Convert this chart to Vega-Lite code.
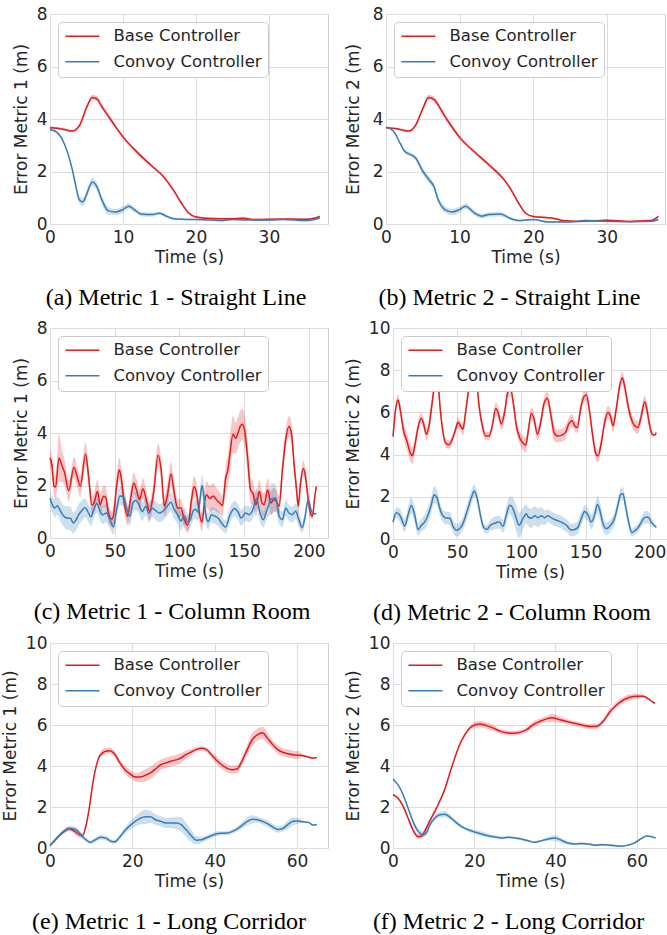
{
"$schema": "https://vega.github.io/schema/vega-lite/v6.json",
"background": "white",
"padding": {"left": 0, "top": 4, "right": 0, "bottom": 0},
"datasets": {
"aB": [{"t":0,"m":3.67,"lo":3.62,"hi":3.72},{"t":1,"m":3.65,"lo":3.6,"hi":3.7},{"t":2,"m":3.6,"lo":3.55,"hi":3.65},{"t":3,"m":3.54,"lo":3.49,"hi":3.59},{"t":4,"m":3.73,"lo":3.65,"hi":3.81},{"t":5,"m":4.43,"lo":4.33,"hi":4.53},{"t":5.8,"m":4.82,"lo":4.72,"hi":4.92},{"t":6.5,"m":4.75,"lo":4.65,"hi":4.85},{"t":7,"m":4.52,"lo":4.42,"hi":4.62},{"t":8,"m":4.11,"lo":4.01,"hi":4.21},{"t":9,"m":3.7,"lo":3.62,"hi":3.78},{"t":10,"m":3.32,"lo":3.25,"hi":3.39},{"t":12,"m":2.72,"lo":2.66,"hi":2.78},{"t":14,"m":2.2,"lo":2.14,"hi":2.26},{"t":15.5,"m":1.82,"lo":1.76,"hi":1.88},{"t":17,"m":1.25,"lo":1.19,"hi":1.31},{"t":18,"m":0.8,"lo":0.74,"hi":0.86},{"t":19,"m":0.42,"lo":0.37,"hi":0.47},{"t":20,"m":0.27,"lo":0.23,"hi":0.31},{"t":22,"m":0.21,"lo":0.17,"hi":0.25},{"t":25,"m":0.2,"lo":0.16,"hi":0.24},{"t":26.5,"m":0.22,"lo":0.17,"hi":0.27},{"t":28,"m":0.17,"lo":0.13,"hi":0.21},{"t":30,"m":0.18,"lo":0.14,"hi":0.22},{"t":33,"m":0.19,"lo":0.15,"hi":0.23},{"t":35,"m":0.18,"lo":0.14,"hi":0.22},{"t":36.5,"m":0.24,"lo":0.2,"hi":0.28},{"t":37,"m":0.29,"lo":0.25,"hi":0.33}],
"aC": [{"t":0,"m":3.6,"lo":3.57,"hi":3.63},{"t":1,"m":3.48,"lo":3.44,"hi":3.52},{"t":2,"m":3.03,"lo":2.98,"hi":3.08},{"t":3,"m":2.14,"lo":2.06,"hi":2.22},{"t":3.5,"m":1.5,"lo":1.38,"hi":1.62},{"t":4,"m":0.93,"lo":0.78,"hi":1.08},{"t":4.5,"m":0.84,"lo":0.69,"hi":0.99},{"t":5,"m":1.12,"lo":0.97,"hi":1.27},{"t":5.8,"m":1.6,"lo":1.45,"hi":1.75},{"t":6.5,"m":1.38,"lo":1.23,"hi":1.53},{"t":7,"m":0.99,"lo":0.84,"hi":1.14},{"t":8,"m":0.5,"lo":0.35,"hi":0.65},{"t":9,"m":0.46,"lo":0.34,"hi":0.58},{"t":10,"m":0.55,"lo":0.43,"hi":0.67},{"t":10.8,"m":0.68,"lo":0.58,"hi":0.78},{"t":11.5,"m":0.56,"lo":0.46,"hi":0.66},{"t":12.5,"m":0.38,"lo":0.3,"hi":0.46},{"t":14,"m":0.36,"lo":0.28,"hi":0.44},{"t":15,"m":0.41,"lo":0.35,"hi":0.47},{"t":16,"m":0.29,"lo":0.24,"hi":0.34},{"t":17,"m":0.2,"lo":0.16,"hi":0.24},{"t":18,"m":0.18,"lo":0.15,"hi":0.21},{"t":20,"m":0.17,"lo":0.14,"hi":0.2},{"t":22,"m":0.15,"lo":0.12,"hi":0.18},{"t":23.5,"m":0.13,"lo":0.1,"hi":0.16},{"t":25,"m":0.17,"lo":0.14,"hi":0.2},{"t":27,"m":0.15,"lo":0.12,"hi":0.18},{"t":30,"m":0.15,"lo":0.12,"hi":0.18},{"t":32,"m":0.17,"lo":0.14,"hi":0.2},{"t":35,"m":0.13,"lo":0.1,"hi":0.16},{"t":37,"m":0.23,"lo":0.2,"hi":0.26}],
"bB": [{"t":0,"m":3.67,"lo":3.63,"hi":3.71},{"t":1.5,"m":3.63,"lo":3.59,"hi":3.67},{"t":3,"m":3.54,"lo":3.49,"hi":3.59},{"t":4,"m":3.75,"lo":3.68,"hi":3.82},{"t":5,"m":4.4,"lo":4.3,"hi":4.5},{"t":5.8,"m":4.82,"lo":4.72,"hi":4.92},{"t":6.5,"m":4.75,"lo":4.65,"hi":4.85},{"t":8,"m":4.1,"lo":4.0,"hi":4.2},{"t":10,"m":3.3,"lo":3.22,"hi":3.38},{"t":12,"m":2.75,"lo":2.69,"hi":2.81},{"t":14,"m":2.25,"lo":2.19,"hi":2.31},{"t":16,"m":1.7,"lo":1.64,"hi":1.76},{"t":17,"m":1.3,"lo":1.24,"hi":1.36},{"t":18,"m":0.8,"lo":0.74,"hi":0.86},{"t":19,"m":0.4,"lo":0.35,"hi":0.45},{"t":20,"m":0.29,"lo":0.25,"hi":0.33},{"t":22,"m":0.24,"lo":0.2,"hi":0.28},{"t":23,"m":0.2,"lo":0.16,"hi":0.24},{"t":24,"m":0.13,"lo":0.1,"hi":0.16},{"t":26,"m":0.1,"lo":0.07,"hi":0.13},{"t":28,"m":0.12,"lo":0.08,"hi":0.16},{"t":30,"m":0.14,"lo":0.1,"hi":0.18},{"t":33,"m":0.1,"lo":0.07,"hi":0.13},{"t":36,"m":0.13,"lo":0.1,"hi":0.16},{"t":37,"m":0.29,"lo":0.26,"hi":0.32}],
"bC": [{"t":0,"m":3.69,"lo":3.66,"hi":3.72},{"t":1,"m":3.54,"lo":3.5,"hi":3.58},{"t":2,"m":3.03,"lo":2.97,"hi":3.09},{"t":2.5,"m":2.78,"lo":2.71,"hi":2.85},{"t":3.5,"m":2.62,"lo":2.54,"hi":2.7},{"t":4,"m":2.52,"lo":2.42,"hi":2.62},{"t":5,"m":2.01,"lo":1.89,"hi":2.13},{"t":6,"m":1.63,"lo":1.51,"hi":1.75},{"t":6.5,"m":1.44,"lo":1.32,"hi":1.56},{"t":7,"m":0.99,"lo":0.87,"hi":1.11},{"t":8,"m":0.55,"lo":0.43,"hi":0.67},{"t":9,"m":0.46,"lo":0.34,"hi":0.58},{"t":10,"m":0.55,"lo":0.43,"hi":0.67},{"t":10.8,"m":0.68,"lo":0.58,"hi":0.78},{"t":12,"m":0.42,"lo":0.32,"hi":0.52},{"t":13,"m":0.3,"lo":0.22,"hi":0.38},{"t":14,"m":0.36,"lo":0.28,"hi":0.44},{"t":15.5,"m":0.38,"lo":0.3,"hi":0.46},{"t":17,"m":0.2,"lo":0.14,"hi":0.26},{"t":18,"m":0.13,"lo":0.09,"hi":0.17},{"t":20,"m":0.17,"lo":0.14,"hi":0.2},{"t":22,"m":0.08,"lo":0.05,"hi":0.11},{"t":25,"m":0.08,"lo":0.05,"hi":0.11},{"t":27,"m":0.13,"lo":0.1,"hi":0.16},{"t":30,"m":0.1,"lo":0.07,"hi":0.13},{"t":33,"m":0.09,"lo":0.06,"hi":0.12},{"t":36,"m":0.1,"lo":0.07,"hi":0.13},{"t":37,"m":0.17,"lo":0.14,"hi":0.2}],
"cB": [{"t":0,"m":3.05,"lo":2.7,"hi":3.4},{"t":1.8,"m":2.67,"lo":2.27,"hi":3.07},{"t":3,"m":1.97,"lo":1.57,"hi":2.37},{"t":4.3,"m":1.94,"lo":1.49,"hi":2.39},{"t":6.9,"m":3.05,"lo":2.15,"hi":3.95},{"t":9.4,"m":2.73,"lo":2.13,"hi":3.33},{"t":11.2,"m":2.5,"lo":2.0,"hi":3.0},{"t":14.5,"m":1.8,"lo":1.4,"hi":2.2},{"t":18.5,"m":2.7,"lo":2.3,"hi":3.1},{"t":20.9,"m":2.35,"lo":1.95,"hi":2.75},{"t":23.4,"m":1.97,"lo":1.57,"hi":2.37},{"t":27.5,"m":3.2,"lo":2.75,"hi":3.65},{"t":29.8,"m":2.35,"lo":1.95,"hi":2.75},{"t":32.4,"m":1.25,"lo":0.9,"hi":1.6},{"t":34.1,"m":1.35,"lo":0.95,"hi":1.75},{"t":36.7,"m":1.78,"lo":1.33,"hi":2.23},{"t":38.7,"m":1.27,"lo":0.87,"hi":1.67},{"t":41.3,"m":1.59,"lo":1.19,"hi":1.99},{"t":43,"m":1.55,"lo":1.15,"hi":1.95},{"t":45.1,"m":0.95,"lo":0.6,"hi":1.3},{"t":47.6,"m":0.72,"lo":0.42,"hi":1.02},{"t":49,"m":0.85,"lo":0.5,"hi":1.2},{"t":51.5,"m":2.0,"lo":1.6,"hi":2.4},{"t":53.5,"m":2.6,"lo":2.15,"hi":3.05},{"t":55,"m":2.3,"lo":1.9,"hi":2.7},{"t":57,"m":1.46,"lo":1.06,"hi":1.86},{"t":59.9,"m":0.83,"lo":0.48,"hi":1.18},{"t":62.2,"m":1.46,"lo":1.06,"hi":1.86},{"t":64.7,"m":2.1,"lo":1.7,"hi":2.5},{"t":66.8,"m":1.84,"lo":1.44,"hi":2.24},{"t":69.3,"m":1.46,"lo":1.06,"hi":1.86},{"t":71.8,"m":1.88,"lo":1.48,"hi":2.28},{"t":74.4,"m":1.46,"lo":1.11,"hi":1.81},{"t":76.9,"m":1.02,"lo":0.67,"hi":1.37},{"t":80,"m":1.71,"lo":1.31,"hi":2.11},{"t":83.5,"m":3.15,"lo":2.7,"hi":3.6},{"t":85.9,"m":2.6,"lo":2.15,"hi":3.05},{"t":88.4,"m":1.21,"lo":0.81,"hi":1.61},{"t":91,"m":1.71,"lo":1.26,"hi":2.16},{"t":93.5,"m":2.45,"lo":2.0,"hi":2.9},{"t":96,"m":1.71,"lo":1.31,"hi":2.11},{"t":98.6,"m":1.14,"lo":0.79,"hi":1.49},{"t":101.1,"m":1.15,"lo":0.8,"hi":1.5},{"t":103.7,"m":0.7,"lo":0.4,"hi":1.0},{"t":106.5,"m":0.5,"lo":0.2,"hi":0.8},{"t":109.5,"m":1.5,"lo":1.1,"hi":1.9},{"t":111.3,"m":1.95,"lo":1.55,"hi":2.35},{"t":113.3,"m":1.7,"lo":1.3,"hi":2.1},{"t":115.4,"m":0.95,"lo":0.6,"hi":1.3},{"t":117.4,"m":0.6,"lo":0.25,"hi":0.95},{"t":119.5,"m":1.4,"lo":0.95,"hi":1.85},{"t":121,"m":1.65,"lo":1.15,"hi":2.15},{"t":123.5,"m":1.5,"lo":1.0,"hi":2.0},{"t":126.1,"m":1.6,"lo":1.1,"hi":2.1},{"t":128.6,"m":1.46,"lo":1.01,"hi":1.91},{"t":131.2,"m":1.33,"lo":0.93,"hi":1.73},{"t":133.2,"m":1.23,"lo":0.83,"hi":1.63},{"t":135.8,"m":2.3,"lo":1.8,"hi":2.8},{"t":137.5,"m":2.6,"lo":2.0,"hi":3.2},{"t":138.8,"m":3.1,"lo":2.4,"hi":3.8},{"t":141.4,"m":3.95,"lo":3.25,"hi":4.65},{"t":143.4,"m":3.8,"lo":3.2,"hi":4.4},{"t":145.2,"m":4.0,"lo":3.4,"hi":4.6},{"t":147,"m":4.25,"lo":3.65,"hi":4.85},{"t":148.5,"m":4.33,"lo":3.73,"hi":4.93},{"t":150.3,"m":4.13,"lo":3.53,"hi":4.73},{"t":152.8,"m":3.0,"lo":2.4,"hi":3.6},{"t":154.9,"m":1.84,"lo":1.34,"hi":2.34},{"t":156.7,"m":1.71,"lo":1.26,"hi":2.16},{"t":159.2,"m":1.27,"lo":0.82,"hi":1.72},{"t":161.8,"m":1.78,"lo":1.33,"hi":2.23},{"t":163.8,"m":1.33,"lo":0.88,"hi":1.78},{"t":165.6,"m":1.27,"lo":0.82,"hi":1.72},{"t":168.1,"m":1.84,"lo":1.39,"hi":2.29},{"t":170.7,"m":1.33,"lo":0.88,"hi":1.78},{"t":172.7,"m":1.46,"lo":1.01,"hi":1.91},{"t":175,"m":1.4,"lo":1.0,"hi":1.8},{"t":177,"m":1.21,"lo":0.81,"hi":1.61},{"t":179.6,"m":2.6,"lo":2.2,"hi":3.0},{"t":182.1,"m":3.75,"lo":3.35,"hi":4.15},{"t":184.7,"m":4.25,"lo":3.85,"hi":4.65},{"t":186.7,"m":3.94,"lo":3.54,"hi":4.34},{"t":188.5,"m":2.86,"lo":2.51,"hi":3.21},{"t":190.5,"m":1.84,"lo":1.49,"hi":2.19},{"t":191.8,"m":1.21,"lo":0.91,"hi":1.51},{"t":193.6,"m":2.1,"lo":1.8,"hi":2.4},{"t":195.7,"m":2.65,"lo":2.35,"hi":2.95},{"t":197.4,"m":2.35,"lo":2.05,"hi":2.65},{"t":199.5,"m":1.46,"lo":1.16,"hi":1.76},{"t":201.2,"m":0.95,"lo":0.75,"hi":1.15},{"t":202.8,"m":0.83,"lo":0.73,"hi":0.93},{"t":204.3,"m":1.46,"lo":1.41,"hi":1.51},{"t":205.8,"m":1.97,"lo":1.95,"hi":1.99}],
"cC": [{"t":0,"m":1.52,"lo":1.22,"hi":1.82},{"t":1.8,"m":1.27,"lo":0.97,"hi":1.57},{"t":3.6,"m":1.14,"lo":0.79,"hi":1.49},{"t":5.6,"m":1.23,"lo":0.88,"hi":1.58},{"t":8.2,"m":1.02,"lo":0.62,"hi":1.42},{"t":10.7,"m":0.83,"lo":0.43,"hi":1.23},{"t":13.2,"m":0.76,"lo":0.31,"hi":1.21},{"t":15.8,"m":0.75,"lo":0.3,"hi":1.2},{"t":18,"m":0.57,"lo":0.17,"hi":0.97},{"t":20.5,"m":0.72,"lo":0.32,"hi":1.12},{"t":22.2,"m":0.89,"lo":0.49,"hi":1.29},{"t":24.7,"m":1.05,"lo":0.65,"hi":1.45},{"t":27.3,"m":1.15,"lo":0.8,"hi":1.5},{"t":29.8,"m":0.95,"lo":0.6,"hi":1.3},{"t":31.6,"m":0.8,"lo":0.45,"hi":1.15},{"t":33.6,"m":1.05,"lo":0.7,"hi":1.4},{"t":36.2,"m":1.31,"lo":0.96,"hi":1.66},{"t":38.7,"m":1.02,"lo":0.67,"hi":1.37},{"t":40.8,"m":0.88,"lo":0.53,"hi":1.23},{"t":43.3,"m":0.95,"lo":0.6,"hi":1.3},{"t":46.4,"m":0.7,"lo":0.35,"hi":1.05},{"t":48.9,"m":0.42,"lo":0.12,"hi":0.72},{"t":51.5,"m":1.1,"lo":0.75,"hi":1.45},{"t":54,"m":1.6,"lo":1.25,"hi":1.95},{"t":57,"m":1.55,"lo":1.2,"hi":1.9},{"t":59.1,"m":1.14,"lo":0.79,"hi":1.49},{"t":61.7,"m":0.83,"lo":0.48,"hi":1.18},{"t":64.2,"m":1.35,"lo":1.0,"hi":1.7},{"t":66.2,"m":1.43,"lo":1.08,"hi":1.78},{"t":68.8,"m":1.27,"lo":0.92,"hi":1.62},{"t":71.3,"m":1.0,"lo":0.65,"hi":1.35},{"t":73.9,"m":1.21,"lo":0.86,"hi":1.56},{"t":76.4,"m":0.95,"lo":0.6,"hi":1.3},{"t":79,"m":1.14,"lo":0.79,"hi":1.49},{"t":81.5,"m":1.05,"lo":0.7,"hi":1.4},{"t":84.6,"m":0.95,"lo":0.6,"hi":1.3},{"t":87.1,"m":1.02,"lo":0.67,"hi":1.37},{"t":90.2,"m":1.18,"lo":0.83,"hi":1.53},{"t":93.5,"m":1.36,"lo":1.01,"hi":1.71},{"t":96,"m":1.08,"lo":0.73,"hi":1.43},{"t":98.6,"m":0.89,"lo":0.54,"hi":1.24},{"t":101.1,"m":0.65,"lo":0.3,"hi":1.0},{"t":103.7,"m":0.83,"lo":0.48,"hi":1.18},{"t":106.5,"m":0.6,"lo":0.3,"hi":0.9},{"t":108.5,"m":0.7,"lo":0.4,"hi":1.0},{"t":110.5,"m":1.02,"lo":0.67,"hi":1.37},{"t":112.5,"m":1.1,"lo":0.75,"hi":1.45},{"t":114.5,"m":0.98,"lo":0.63,"hi":1.33},{"t":116,"m":1.5,"lo":1.1,"hi":1.9},{"t":117.5,"m":2.0,"lo":1.6,"hi":2.4},{"t":119,"m":1.55,"lo":1.15,"hi":1.95},{"t":120.5,"m":0.83,"lo":0.48,"hi":1.18},{"t":122.3,"m":0.63,"lo":0.33,"hi":0.93},{"t":124.8,"m":0.89,"lo":0.59,"hi":1.19},{"t":127.4,"m":0.83,"lo":0.53,"hi":1.13},{"t":129.9,"m":0.76,"lo":0.46,"hi":1.06},{"t":132.5,"m":0.57,"lo":0.32,"hi":0.82},{"t":135.8,"m":0.42,"lo":0.17,"hi":0.67},{"t":138.8,"m":0.85,"lo":0.55,"hi":1.15},{"t":142.6,"m":1.12,"lo":0.82,"hi":1.42},{"t":145.2,"m":1.0,"lo":0.7,"hi":1.3},{"t":147.7,"m":0.76,"lo":0.46,"hi":1.06},{"t":151,"m":0.95,"lo":0.65,"hi":1.25},{"t":154.1,"m":0.89,"lo":0.59,"hi":1.19},{"t":156.7,"m":1.08,"lo":0.73,"hi":1.43},{"t":159.7,"m":1.5,"lo":1.1,"hi":1.9},{"t":162.3,"m":0.95,"lo":0.6,"hi":1.3},{"t":164.8,"m":0.7,"lo":0.4,"hi":1.0},{"t":168.1,"m":1.14,"lo":0.79,"hi":1.49},{"t":171.4,"m":1.5,"lo":0.9,"hi":2.1},{"t":174.5,"m":1.52,"lo":1.02,"hi":2.02},{"t":177,"m":0.83,"lo":0.53,"hi":1.13},{"t":179.6,"m":0.7,"lo":0.4,"hi":1.0},{"t":182.1,"m":1.14,"lo":0.84,"hi":1.44},{"t":184.7,"m":0.95,"lo":0.65,"hi":1.25},{"t":187.2,"m":0.89,"lo":0.59,"hi":1.19},{"t":189.8,"m":1.02,"lo":0.72,"hi":1.32},{"t":192.3,"m":0.7,"lo":0.4,"hi":1.0},{"t":194.9,"m":0.4,"lo":0.2,"hi":0.6},{"t":196.9,"m":0.76,"lo":0.56,"hi":0.96},{"t":199.5,"m":1.46,"lo":1.31,"hi":1.61},{"t":202,"m":1.02,"lo":0.92,"hi":1.12},{"t":204,"m":0.92,"lo":0.87,"hi":0.97},{"t":205.8,"m":0.93,"lo":0.91,"hi":0.95}],
"dB": [{"t":0,"m":4.85,"lo":4.65,"hi":5.05},{"t":2.1,"m":6.18,"lo":5.93,"hi":6.43},{"t":3.9,"m":6.59,"lo":6.34,"hi":6.84},{"t":5.7,"m":6.1,"lo":5.8,"hi":6.4},{"t":8.3,"m":5.12,"lo":4.77,"hi":5.47},{"t":10.9,"m":4.63,"lo":4.23,"hi":5.03},{"t":13.5,"m":4.07,"lo":3.67,"hi":4.47},{"t":15.1,"m":3.95,"lo":3.55,"hi":4.35},{"t":16.9,"m":4.39,"lo":4.04,"hi":4.74},{"t":19.5,"m":5.28,"lo":4.98,"hi":5.58},{"t":22.1,"m":5.72,"lo":5.47,"hi":5.97},{"t":24.2,"m":5.37,"lo":5.12,"hi":5.62},{"t":26,"m":4.96,"lo":4.66,"hi":5.26},{"t":28.1,"m":5.37,"lo":5.02,"hi":5.72},{"t":30.6,"m":6.5,"lo":6.1,"hi":6.9},{"t":33.2,"m":7.48,"lo":7.08,"hi":7.88},{"t":35.1,"m":7.32,"lo":6.97,"hi":7.67},{"t":36.9,"m":6.1,"lo":5.8,"hi":6.4},{"t":39,"m":5.04,"lo":4.79,"hi":5.29},{"t":41,"m":4.55,"lo":4.35,"hi":4.75},{"t":43.6,"m":4.47,"lo":4.27,"hi":4.67},{"t":46.2,"m":4.72,"lo":4.52,"hi":4.92},{"t":48.8,"m":5.2,"lo":5.0,"hi":5.4},{"t":50.6,"m":5.53,"lo":5.28,"hi":5.78},{"t":52.5,"m":5.37,"lo":5.12,"hi":5.62},{"t":54.5,"m":5.2,"lo":4.9,"hi":5.5},{"t":56.6,"m":6.02,"lo":5.72,"hi":6.32},{"t":59.2,"m":7.15,"lo":6.85,"hi":7.45},{"t":61.8,"m":7.7,"lo":7.4,"hi":8.0},{"t":63.5,"m":7.75,"lo":7.45,"hi":8.05},{"t":65.5,"m":7.3,"lo":7.0,"hi":7.6},{"t":67,"m":6.34,"lo":6.04,"hi":6.64},{"t":69.6,"m":5.37,"lo":5.07,"hi":5.67},{"t":72.2,"m":4.88,"lo":4.68,"hi":5.08},{"t":74.8,"m":4.88,"lo":4.68,"hi":5.08},{"t":77.4,"m":5.37,"lo":5.17,"hi":5.57},{"t":80,"m":6.18,"lo":5.88,"hi":6.48},{"t":81.8,"m":6.02,"lo":5.72,"hi":6.32},{"t":84.4,"m":5.45,"lo":5.15,"hi":5.75},{"t":87,"m":6.02,"lo":5.72,"hi":6.32},{"t":89.6,"m":6.99,"lo":6.69,"hi":7.29},{"t":91.7,"m":7.07,"lo":6.77,"hi":7.37},{"t":94,"m":6.34,"lo":6.04,"hi":6.64},{"t":96.1,"m":5.37,"lo":5.07,"hi":5.67},{"t":98.7,"m":4.8,"lo":4.5,"hi":5.1},{"t":101.3,"m":4.55,"lo":4.2,"hi":4.9},{"t":103.5,"m":4.45,"lo":4.1,"hi":4.8},{"t":105.2,"m":5.04,"lo":4.74,"hi":5.34},{"t":107.8,"m":5.95,"lo":5.65,"hi":6.25},{"t":109.9,"m":5.69,"lo":5.39,"hi":5.99},{"t":112.5,"m":4.96,"lo":4.66,"hi":5.26},{"t":115.1,"m":5.53,"lo":5.23,"hi":5.83},{"t":117.7,"m":6.42,"lo":6.12,"hi":6.72},{"t":120.3,"m":6.67,"lo":6.37,"hi":6.97},{"t":122.9,"m":5.93,"lo":5.58,"hi":6.28},{"t":125.5,"m":5.04,"lo":4.64,"hi":5.44},{"t":128.1,"m":4.88,"lo":4.58,"hi":5.18},{"t":131.2,"m":4.91,"lo":4.61,"hi":5.21},{"t":134.3,"m":5.04,"lo":4.74,"hi":5.34},{"t":136.9,"m":5.45,"lo":5.15,"hi":5.75},{"t":139.5,"m":5.61,"lo":5.31,"hi":5.91},{"t":141.6,"m":5.37,"lo":5.12,"hi":5.62},{"t":143.6,"m":5.28,"lo":5.03,"hi":5.53},{"t":146.2,"m":6.18,"lo":5.88,"hi":6.48},{"t":148.8,"m":6.75,"lo":6.45,"hi":7.05},{"t":150.7,"m":6.83,"lo":6.53,"hi":7.13},{"t":153.2,"m":6.02,"lo":5.72,"hi":6.32},{"t":155.8,"m":4.8,"lo":4.5,"hi":5.1},{"t":157.9,"m":4.07,"lo":3.77,"hi":4.37},{"t":159.7,"m":3.93,"lo":3.63,"hi":4.23},{"t":162.3,"m":4.55,"lo":4.25,"hi":4.85},{"t":164.9,"m":5.53,"lo":5.23,"hi":5.83},{"t":167.5,"m":6.0,"lo":5.7,"hi":6.3},{"t":169.6,"m":5.8,"lo":5.5,"hi":6.1},{"t":171.4,"m":5.37,"lo":5.02,"hi":5.72},{"t":174,"m":6.18,"lo":5.88,"hi":6.48},{"t":176.6,"m":7.24,"lo":6.94,"hi":7.54},{"t":178.7,"m":7.64,"lo":7.34,"hi":7.94},{"t":180.5,"m":7.24,"lo":6.94,"hi":7.54},{"t":183.1,"m":6.34,"lo":6.04,"hi":6.64},{"t":185.7,"m":5.69,"lo":5.39,"hi":5.99},{"t":188.3,"m":5.37,"lo":5.07,"hi":5.67},{"t":190.9,"m":5.28,"lo":4.98,"hi":5.58},{"t":193.5,"m":5.85,"lo":5.55,"hi":6.15},{"t":196.1,"m":6.5,"lo":6.2,"hi":6.8},{"t":198.2,"m":6.02,"lo":5.72,"hi":6.32},{"t":200,"m":5.37,"lo":5.12,"hi":5.62},{"t":202.1,"m":4.96,"lo":4.81,"hi":5.11},{"t":203.9,"m":4.93,"lo":4.88,"hi":4.98},{"t":205.2,"m":5.04,"lo":5.02,"hi":5.06}],
"dC": [{"t":0,"m":0.8,"lo":0.65,"hi":0.95},{"t":2.6,"m":1.25,"lo":1.0,"hi":1.5},{"t":4.7,"m":1.17,"lo":0.87,"hi":1.47},{"t":6.5,"m":0.98,"lo":0.68,"hi":1.28},{"t":9.1,"m":0.62,"lo":0.32,"hi":0.92},{"t":11.7,"m":1.14,"lo":0.79,"hi":1.49},{"t":14.3,"m":1.59,"lo":1.19,"hi":1.99},{"t":16.9,"m":1.14,"lo":0.79,"hi":1.49},{"t":19.5,"m":0.45,"lo":0.15,"hi":0.75},{"t":22.1,"m":0.65,"lo":0.35,"hi":0.95},{"t":24.7,"m":0.81,"lo":0.46,"hi":1.16},{"t":27.3,"m":1.14,"lo":0.74,"hi":1.54},{"t":29.9,"m":1.63,"lo":1.23,"hi":2.03},{"t":32,"m":2.1,"lo":1.7,"hi":2.5},{"t":34.3,"m":1.95,"lo":1.6,"hi":2.3},{"t":36.4,"m":1.46,"lo":1.16,"hi":1.76},{"t":38.4,"m":1.14,"lo":0.84,"hi":1.44},{"t":41,"m":1.0,"lo":0.7,"hi":1.3},{"t":44.2,"m":0.98,"lo":0.68,"hi":1.28},{"t":46.8,"m":0.6,"lo":0.3,"hi":0.9},{"t":49.4,"m":0.41,"lo":0.11,"hi":0.71},{"t":51.9,"m":0.49,"lo":0.19,"hi":0.79},{"t":54.5,"m":0.73,"lo":0.43,"hi":1.03},{"t":57.7,"m":1.3,"lo":0.95,"hi":1.65},{"t":61,"m":1.95,"lo":1.6,"hi":2.3},{"t":63.3,"m":2.28,"lo":1.98,"hi":2.58},{"t":65.5,"m":1.95,"lo":1.65,"hi":2.25},{"t":68.1,"m":1.14,"lo":0.84,"hi":1.44},{"t":70.6,"m":0.55,"lo":0.35,"hi":0.75},{"t":73.2,"m":0.45,"lo":0.25,"hi":0.65},{"t":75.8,"m":0.65,"lo":0.4,"hi":0.9},{"t":79.2,"m":0.75,"lo":0.45,"hi":1.05},{"t":83.1,"m":0.8,"lo":0.5,"hi":1.1},{"t":85.7,"m":0.6,"lo":0.3,"hi":0.9},{"t":88.3,"m":1.14,"lo":0.74,"hi":1.54},{"t":90.9,"m":1.6,"lo":1.2,"hi":2.0},{"t":93,"m":1.5,"lo":1.0,"hi":2.0},{"t":95.6,"m":1.06,"lo":0.46,"hi":1.66},{"t":98.2,"m":0.65,"lo":0.05,"hi":1.25},{"t":101.3,"m":0.98,"lo":0.48,"hi":1.48},{"t":103.9,"m":1.2,"lo":0.75,"hi":1.65},{"t":105.2,"m":1.06,"lo":0.61,"hi":1.51},{"t":107.8,"m":0.98,"lo":0.53,"hi":1.43},{"t":110.4,"m":1.1,"lo":0.65,"hi":1.55},{"t":113,"m":1.01,"lo":0.56,"hi":1.46},{"t":115.6,"m":1.1,"lo":0.7,"hi":1.5},{"t":118.2,"m":1.01,"lo":0.66,"hi":1.36},{"t":120.8,"m":1.1,"lo":0.8,"hi":1.4},{"t":123.4,"m":1.0,"lo":0.7,"hi":1.3},{"t":127.3,"m":0.89,"lo":0.59,"hi":1.19},{"t":131.2,"m":0.8,"lo":0.5,"hi":1.1},{"t":135.1,"m":0.65,"lo":0.35,"hi":0.95},{"t":139,"m":0.42,"lo":0.12,"hi":0.72},{"t":141.6,"m":0.45,"lo":0.15,"hi":0.75},{"t":144.2,"m":0.57,"lo":0.27,"hi":0.87},{"t":146.8,"m":0.98,"lo":0.68,"hi":1.28},{"t":149.3,"m":1.3,"lo":1.0,"hi":1.6},{"t":151.9,"m":1.14,"lo":0.84,"hi":1.44},{"t":154.5,"m":0.81,"lo":0.46,"hi":1.16},{"t":157.1,"m":1.14,"lo":0.79,"hi":1.49},{"t":159.2,"m":1.63,"lo":1.23,"hi":2.03},{"t":161,"m":1.4,"lo":1.0,"hi":1.8},{"t":163.6,"m":0.73,"lo":0.38,"hi":1.08},{"t":166.2,"m":0.49,"lo":0.19,"hi":0.79},{"t":169.6,"m":0.65,"lo":0.35,"hi":0.95},{"t":172.7,"m":0.98,"lo":0.68,"hi":1.28},{"t":175.3,"m":1.63,"lo":1.33,"hi":1.93},{"t":177.4,"m":2.11,"lo":1.81,"hi":2.41},{"t":179.2,"m":2.15,"lo":1.85,"hi":2.45},{"t":181,"m":1.63,"lo":1.33,"hi":1.93},{"t":183.6,"m":0.81,"lo":0.51,"hi":1.11},{"t":186.2,"m":0.3,"lo":0.1,"hi":0.5},{"t":188.8,"m":0.41,"lo":0.21,"hi":0.61},{"t":191.4,"m":0.57,"lo":0.37,"hi":0.77},{"t":194,"m":0.85,"lo":0.6,"hi":1.1},{"t":196.6,"m":1.03,"lo":0.73,"hi":1.33},{"t":198.7,"m":1.03,"lo":0.73,"hi":1.33},{"t":201.3,"m":0.8,"lo":0.6,"hi":1.0},{"t":204.4,"m":0.6,"lo":0.55,"hi":0.65},{"t":205.2,"m":0.55,"lo":0.53,"hi":0.57}],
"eB": [{"t":0,"m":0.11,"lo":0.06,"hi":0.16},{"t":1.7,"m":0.49,"lo":0.41,"hi":0.57},{"t":3.4,"m":0.81,"lo":0.71,"hi":0.91},{"t":4.6,"m":0.95,"lo":0.85,"hi":1.05},{"t":5.9,"m":0.82,"lo":0.67,"hi":0.97},{"t":7.1,"m":0.65,"lo":0.5,"hi":0.8},{"t":7.9,"m":0.6,"lo":0.48,"hi":0.72},{"t":8.7,"m":1.05,"lo":0.95,"hi":1.15},{"t":9.6,"m":2.03,"lo":1.93,"hi":2.13},{"t":10.4,"m":3.17,"lo":3.07,"hi":3.27},{"t":11.2,"m":3.98,"lo":3.88,"hi":4.08},{"t":12,"m":4.47,"lo":4.35,"hi":4.59},{"t":13.3,"m":4.71,"lo":4.56,"hi":4.86},{"t":14.5,"m":4.75,"lo":4.6,"hi":4.9},{"t":15.7,"m":4.58,"lo":4.43,"hi":4.73},{"t":17,"m":4.14,"lo":3.99,"hi":4.29},{"t":18.2,"m":3.82,"lo":3.62,"hi":4.02},{"t":19.4,"m":3.62,"lo":3.42,"hi":3.82},{"t":20.7,"m":3.46,"lo":3.26,"hi":3.66},{"t":21.9,"m":3.46,"lo":3.21,"hi":3.71},{"t":23.2,"m":3.55,"lo":3.25,"hi":3.85},{"t":24.4,"m":3.66,"lo":3.36,"hi":3.96},{"t":25.6,"m":3.85,"lo":3.55,"hi":4.15},{"t":26.9,"m":4.06,"lo":3.81,"hi":4.31},{"t":28.1,"m":4.15,"lo":3.9,"hi":4.4},{"t":29.3,"m":4.23,"lo":3.98,"hi":4.48},{"t":30.6,"m":4.3,"lo":4.05,"hi":4.55},{"t":31.8,"m":4.39,"lo":4.14,"hi":4.64},{"t":33,"m":4.55,"lo":4.35,"hi":4.75},{"t":34.3,"m":4.68,"lo":4.53,"hi":4.83},{"t":35.5,"m":4.8,"lo":4.68,"hi":4.92},{"t":36.8,"m":4.86,"lo":4.76,"hi":4.96},{"t":38,"m":4.8,"lo":4.68,"hi":4.92},{"t":39.2,"m":4.55,"lo":4.4,"hi":4.7},{"t":40.5,"m":4.27,"lo":4.07,"hi":4.47},{"t":41.7,"m":4.06,"lo":3.86,"hi":4.26},{"t":42.9,"m":3.9,"lo":3.7,"hi":4.1},{"t":44.2,"m":3.82,"lo":3.62,"hi":4.02},{"t":45.4,"m":3.85,"lo":3.65,"hi":4.05},{"t":46.6,"m":4.23,"lo":4.03,"hi":4.43},{"t":47.9,"m":4.8,"lo":4.55,"hi":5.05},{"t":49.1,"m":5.28,"lo":4.98,"hi":5.58},{"t":50.4,"m":5.53,"lo":5.23,"hi":5.83},{"t":51.6,"m":5.62,"lo":5.32,"hi":5.92},{"t":52.8,"m":5.36,"lo":5.11,"hi":5.61},{"t":54.1,"m":5.04,"lo":4.84,"hi":5.24},{"t":55.3,"m":4.8,"lo":4.6,"hi":5.0},{"t":56.5,"m":4.67,"lo":4.47,"hi":4.87},{"t":57.8,"m":4.6,"lo":4.4,"hi":4.8},{"t":59,"m":4.55,"lo":4.35,"hi":4.75},{"t":60.2,"m":4.53,"lo":4.33,"hi":4.73},{"t":61.5,"m":4.5,"lo":4.45,"hi":4.55},{"t":62.7,"m":4.44,"lo":4.41,"hi":4.47},{"t":63.9,"m":4.38,"lo":4.35,"hi":4.41},{"t":64.8,"m":4.42,"lo":4.4,"hi":4.44}],
"eC": [{"t":0,"m":0.12,"lo":0.07,"hi":0.17},{"t":1.7,"m":0.49,"lo":0.41,"hi":0.57},{"t":3.4,"m":0.81,"lo":0.71,"hi":0.91},{"t":5,"m":0.95,"lo":0.83,"hi":1.07},{"t":6.3,"m":0.89,"lo":0.74,"hi":1.04},{"t":7.5,"m":0.65,"lo":0.53,"hi":0.77},{"t":8.7,"m":0.41,"lo":0.31,"hi":0.51},{"t":9.8,"m":0.28,"lo":0.2,"hi":0.36},{"t":10.8,"m":0.38,"lo":0.28,"hi":0.48},{"t":12.3,"m":0.52,"lo":0.4,"hi":0.64},{"t":13.7,"m":0.47,"lo":0.35,"hi":0.59},{"t":14.8,"m":0.33,"lo":0.23,"hi":0.43},{"t":15.7,"m":0.3,"lo":0.2,"hi":0.4},{"t":17,"m":0.55,"lo":0.43,"hi":0.67},{"t":18.2,"m":0.85,"lo":0.7,"hi":1.0},{"t":19.4,"m":1.09,"lo":0.89,"hi":1.29},{"t":20.7,"m":1.3,"lo":1.05,"hi":1.55},{"t":21.9,"m":1.45,"lo":1.15,"hi":1.75},{"t":23.2,"m":1.52,"lo":1.17,"hi":1.87},{"t":24.4,"m":1.52,"lo":1.22,"hi":1.82},{"t":25.6,"m":1.38,"lo":1.13,"hi":1.63},{"t":26.9,"m":1.3,"lo":1.05,"hi":1.55},{"t":28.1,"m":1.22,"lo":0.97,"hi":1.47},{"t":29.3,"m":1.22,"lo":0.97,"hi":1.47},{"t":30.6,"m":1.22,"lo":0.92,"hi":1.52},{"t":31.8,"m":1.15,"lo":0.8,"hi":1.5},{"t":33,"m":0.9,"lo":0.55,"hi":1.25},{"t":34.3,"m":0.6,"lo":0.3,"hi":0.9},{"t":35.5,"m":0.38,"lo":0.18,"hi":0.58},{"t":36.8,"m":0.4,"lo":0.25,"hi":0.55},{"t":38,"m":0.5,"lo":0.38,"hi":0.62},{"t":39.2,"m":0.6,"lo":0.48,"hi":0.72},{"t":40.5,"m":0.7,"lo":0.58,"hi":0.82},{"t":41.7,"m":0.72,"lo":0.62,"hi":0.82},{"t":42.9,"m":0.73,"lo":0.63,"hi":0.83},{"t":44.2,"m":0.8,"lo":0.7,"hi":0.9},{"t":45.4,"m":0.92,"lo":0.8,"hi":1.04},{"t":46.6,"m":1.1,"lo":0.95,"hi":1.25},{"t":47.9,"m":1.3,"lo":1.1,"hi":1.5},{"t":49.1,"m":1.4,"lo":1.2,"hi":1.6},{"t":50.4,"m":1.38,"lo":1.23,"hi":1.53},{"t":51.6,"m":1.3,"lo":1.15,"hi":1.45},{"t":52.8,"m":1.19,"lo":1.04,"hi":1.34},{"t":54.1,"m":1.02,"lo":0.87,"hi":1.17},{"t":55.3,"m":0.9,"lo":0.75,"hi":1.05},{"t":56.5,"m":0.95,"lo":0.8,"hi":1.1},{"t":57.8,"m":1.15,"lo":0.95,"hi":1.35},{"t":59,"m":1.3,"lo":1.1,"hi":1.5},{"t":60.2,"m":1.32,"lo":1.17,"hi":1.47},{"t":61.5,"m":1.28,"lo":1.23,"hi":1.33},{"t":62.7,"m":1.25,"lo":1.22,"hi":1.28},{"t":63.9,"m":1.12,"lo":1.09,"hi":1.15},{"t":64.8,"m":1.15,"lo":1.13,"hi":1.17}],
"fB": [{"t":0,"m":2.6,"lo":2.55,"hi":2.65},{"t":1.2,"m":2.44,"lo":2.39,"hi":2.49},{"t":2.5,"m":2.03,"lo":1.98,"hi":2.08},{"t":3.7,"m":1.46,"lo":1.4,"hi":1.52},{"t":4.9,"m":0.89,"lo":0.79,"hi":0.99},{"t":6.2,"m":0.55,"lo":0.43,"hi":0.67},{"t":7,"m":0.57,"lo":0.45,"hi":0.69},{"t":7.8,"m":0.81,"lo":0.69,"hi":0.93},{"t":9,"m":1.3,"lo":1.2,"hi":1.4},{"t":10.3,"m":1.79,"lo":1.71,"hi":1.87},{"t":11.5,"m":2.28,"lo":2.2,"hi":2.36},{"t":12.7,"m":2.84,"lo":2.76,"hi":2.92},{"t":14,"m":3.66,"lo":3.6,"hi":3.72},{"t":15.2,"m":4.39,"lo":4.33,"hi":4.45},{"t":16.4,"m":5.04,"lo":4.96,"hi":5.12},{"t":17.7,"m":5.53,"lo":5.45,"hi":5.61},{"t":18.9,"m":5.85,"lo":5.75,"hi":5.95},{"t":20.1,"m":6.0,"lo":5.85,"hi":6.15},{"t":21.4,"m":6.05,"lo":5.9,"hi":6.2},{"t":23,"m":5.97,"lo":5.82,"hi":6.12},{"t":24.7,"m":5.85,"lo":5.7,"hi":6.0},{"t":26.3,"m":5.7,"lo":5.58,"hi":5.82},{"t":27.9,"m":5.62,"lo":5.5,"hi":5.74},{"t":29.6,"m":5.6,"lo":5.48,"hi":5.72},{"t":31.2,"m":5.64,"lo":5.52,"hi":5.76},{"t":32.9,"m":5.77,"lo":5.65,"hi":5.89},{"t":34.5,"m":6.02,"lo":5.87,"hi":6.17},{"t":36.2,"m":6.18,"lo":6.03,"hi":6.33},{"t":37.8,"m":6.3,"lo":6.15,"hi":6.45},{"t":39,"m":6.35,"lo":6.15,"hi":6.55},{"t":41.1,"m":6.26,"lo":6.11,"hi":6.41},{"t":43.5,"m":6.13,"lo":6.01,"hi":6.25},{"t":46,"m":6.02,"lo":5.9,"hi":6.14},{"t":48.5,"m":5.93,"lo":5.81,"hi":6.05},{"t":50.1,"m":5.93,"lo":5.81,"hi":6.05},{"t":51.8,"m":6.2,"lo":6.08,"hi":6.32},{"t":53.4,"m":6.65,"lo":6.5,"hi":6.8},{"t":55.1,"m":6.99,"lo":6.84,"hi":7.14},{"t":56.7,"m":7.22,"lo":7.07,"hi":7.37},{"t":58.3,"m":7.35,"lo":7.2,"hi":7.5},{"t":60,"m":7.4,"lo":7.28,"hi":7.52},{"t":61.6,"m":7.4,"lo":7.32,"hi":7.48},{"t":62.9,"m":7.27,"lo":7.24,"hi":7.3},{"t":63.7,"m":7.15,"lo":7.13,"hi":7.17},{"t":64.5,"m":7.05,"lo":7.03,"hi":7.07}],
"fC": [{"t":0,"m":3.36,"lo":3.33,"hi":3.39},{"t":1.2,"m":3.09,"lo":3.05,"hi":3.13},{"t":2.5,"m":2.6,"lo":2.55,"hi":2.65},{"t":3.7,"m":1.95,"lo":1.89,"hi":2.01},{"t":4.9,"m":1.3,"lo":1.2,"hi":1.4},{"t":6.2,"m":0.81,"lo":0.66,"hi":0.96},{"t":7.4,"m":0.65,"lo":0.5,"hi":0.8},{"t":8.2,"m":0.73,"lo":0.58,"hi":0.88},{"t":9,"m":1.09,"lo":0.97,"hi":1.21},{"t":10.3,"m":1.46,"lo":1.34,"hi":1.58},{"t":11.5,"m":1.62,"lo":1.47,"hi":1.77},{"t":12.7,"m":1.65,"lo":1.5,"hi":1.8},{"t":14,"m":1.51,"lo":1.39,"hi":1.63},{"t":15.2,"m":1.3,"lo":1.2,"hi":1.4},{"t":16.8,"m":1.06,"lo":0.98,"hi":1.14},{"t":18.5,"m":0.89,"lo":0.81,"hi":0.97},{"t":20.1,"m":0.78,"lo":0.68,"hi":0.88},{"t":21.8,"m":0.68,"lo":0.56,"hi":0.8},{"t":23.4,"m":0.6,"lo":0.5,"hi":0.7},{"t":25.1,"m":0.54,"lo":0.46,"hi":0.62},{"t":26.7,"m":0.49,"lo":0.41,"hi":0.57},{"t":28.3,"m":0.52,"lo":0.46,"hi":0.58},{"t":30,"m":0.49,"lo":0.43,"hi":0.55},{"t":31.6,"m":0.44,"lo":0.38,"hi":0.5},{"t":33.3,"m":0.35,"lo":0.29,"hi":0.41},{"t":34.9,"m":0.28,"lo":0.22,"hi":0.34},{"t":36.6,"m":0.36,"lo":0.3,"hi":0.42},{"t":38.2,"m":0.44,"lo":0.36,"hi":0.52},{"t":39.9,"m":0.49,"lo":0.34,"hi":0.64},{"t":41.5,"m":0.37,"lo":0.25,"hi":0.49},{"t":43.1,"m":0.24,"lo":0.16,"hi":0.32},{"t":44.8,"m":0.19,"lo":0.13,"hi":0.25},{"t":46.4,"m":0.22,"lo":0.16,"hi":0.28},{"t":48.1,"m":0.19,"lo":0.13,"hi":0.25},{"t":49.7,"m":0.14,"lo":0.09,"hi":0.19},{"t":51.4,"m":0.16,"lo":0.1,"hi":0.22},{"t":53,"m":0.15,"lo":0.09,"hi":0.21},{"t":54.6,"m":0.11,"lo":0.06,"hi":0.16},{"t":56.3,"m":0.09,"lo":0.05,"hi":0.13},{"t":57.9,"m":0.14,"lo":0.1,"hi":0.18},{"t":59.6,"m":0.26,"lo":0.21,"hi":0.31},{"t":61.2,"m":0.47,"lo":0.42,"hi":0.52},{"t":62.4,"m":0.58,"lo":0.54,"hi":0.62},{"t":63.7,"m":0.55,"lo":0.52,"hi":0.58},{"t":64.7,"m":0.48,"lo":0.46,"hi":0.5}]
},
"columns": 2,
"align": {"row": "each", "column": "none"},
"spacing": {"row": 7, "column": 14},
"resolve": {"legend": {"color": "independent"}},
"concat": [
{"width": 278, "height": 210, "title": {"text": "(a) Metric 1 - Straight Line", "dx": -13},
 "encoding": {"x": {"field": "t", "type": "quantitative", "title": "Time (s)", "scale": {"domain": [0, 38.1], "nice": false, "zero": false}, "axis": {"values": [0, 10, 20, 30]}},
  "y": {"field": "m", "type": "quantitative", "title": "Error Metric 1 (m)", "scale": {"domain": [0, 8], "nice": false}, "axis": {"values": [0, 2, 4, 6, 8]}}},
 "layer": [
  {"data": {"name": "aB"}, "mark": {"type": "area", "opacity": 0.25, "interpolate": "monotone"}, "encoding": {"y": {"field": "lo", "type": "quantitative", "title": "Error Metric 1 (m)"}, "y2": {"field": "hi"}, "fill": {"datum": "Base Controller", "type": "nominal", "legend": null}}},
  {"data": {"name": "aC"}, "mark": {"type": "area", "opacity": 0.25, "interpolate": "monotone"}, "encoding": {"y": {"field": "lo", "type": "quantitative", "title": "Error Metric 1 (m)"}, "y2": {"field": "hi"}, "fill": {"datum": "Convoy Controller", "type": "nominal", "legend": null}}},
  {"data": {"name": "aB"}, "mark": {"type": "line", "strokeWidth": 1.5, "interpolate": "monotone"}, "encoding": {"color": {"datum": "Base Controller", "type": "nominal", "legend": {"title": null}}}},
  {"data": {"name": "aC"}, "mark": {"type": "line", "strokeWidth": 1.5, "interpolate": "monotone"}, "encoding": {"color": {"datum": "Convoy Controller", "type": "nominal", "legend": {"title": null}}}}
 ]},
{"width": 279, "height": 210, "title": {"text": "(b) Metric 2 - Straight Line", "dx": -16},
 "encoding": {"x": {"field": "t", "type": "quantitative", "title": "Time (s)", "scale": {"domain": [0, 37.9], "nice": false, "zero": false}, "axis": {"values": [0, 10, 20, 30]}},
  "y": {"field": "m", "type": "quantitative", "title": "Error Metric 2 (m)", "scale": {"domain": [0, 8], "nice": false}, "axis": {"values": [0, 2, 4, 6, 8], "titlePadding": 10}}},
 "layer": [
  {"data": {"name": "bB"}, "mark": {"type": "area", "opacity": 0.25, "interpolate": "monotone"}, "encoding": {"y": {"field": "lo", "type": "quantitative", "title": "Error Metric 2 (m)"}, "y2": {"field": "hi"}, "fill": {"datum": "Base Controller", "type": "nominal", "legend": null}}},
  {"data": {"name": "bC"}, "mark": {"type": "area", "opacity": 0.25, "interpolate": "monotone"}, "encoding": {"y": {"field": "lo", "type": "quantitative", "title": "Error Metric 2 (m)"}, "y2": {"field": "hi"}, "fill": {"datum": "Convoy Controller", "type": "nominal", "legend": null}}},
  {"data": {"name": "bB"}, "mark": {"type": "line", "strokeWidth": 1.5, "interpolate": "monotone"}, "encoding": {"color": {"datum": "Base Controller", "type": "nominal", "legend": {"title": null}}}},
  {"data": {"name": "bC"}, "mark": {"type": "line", "strokeWidth": 1.5, "interpolate": "monotone"}, "encoding": {"color": {"datum": "Convoy Controller", "type": "nominal", "legend": {"title": null}}}}
 ]},
{"width": 278, "height": 210, "title": {"text": "(c) Metric 1 - Column Room", "dx": -17},
 "encoding": {"x": {"field": "t", "type": "quantitative", "title": "Time (s)", "scale": {"domain": [0, 214.8], "nice": false, "zero": false}, "axis": {"values": [0, 50, 100, 150, 200]}},
  "y": {"field": "m", "type": "quantitative", "title": "Error Metric 1 (m)", "scale": {"domain": [0, 8], "nice": false}, "axis": {"values": [0, 2, 4, 6, 8]}}},
 "layer": [
  {"data": {"name": "cB"}, "mark": {"type": "area", "opacity": 0.25, "interpolate": "monotone"}, "encoding": {"y": {"field": "lo", "type": "quantitative", "title": "Error Metric 1 (m)"}, "y2": {"field": "hi"}, "fill": {"datum": "Base Controller", "type": "nominal", "legend": null}}},
  {"data": {"name": "cC"}, "mark": {"type": "area", "opacity": 0.25, "interpolate": "monotone"}, "encoding": {"y": {"field": "lo", "type": "quantitative", "title": "Error Metric 1 (m)"}, "y2": {"field": "hi"}, "fill": {"datum": "Convoy Controller", "type": "nominal", "legend": null}}},
  {"data": {"name": "cB"}, "mark": {"type": "line", "strokeWidth": 1.5, "interpolate": "monotone"}, "encoding": {"color": {"datum": "Base Controller", "type": "nominal", "legend": {"title": null}}}},
  {"data": {"name": "cC"}, "mark": {"type": "line", "strokeWidth": 1.5, "interpolate": "monotone"}, "encoding": {"color": {"datum": "Convoy Controller", "type": "nominal", "legend": {"title": null}}}}
 ]},
{"width": 274, "height": 211, "title": {"text": "(d) Metric 2 - Column Room", "dx": -18},
 "encoding": {"x": {"field": "t", "type": "quantitative", "title": "Time (s)", "scale": {"domain": [0, 213.5], "nice": false, "zero": false}, "axis": {"values": [0, 50, 100, 150, 200]}},
  "y": {"field": "m", "type": "quantitative", "title": "Error Metric 2 (m)", "scale": {"domain": [0, 10], "nice": false}, "axis": {"values": [0, 2, 4, 6, 8, 10]}}},
 "layer": [
  {"data": {"name": "dB"}, "mark": {"type": "area", "opacity": 0.25, "interpolate": "monotone"}, "encoding": {"y": {"field": "lo", "type": "quantitative", "title": "Error Metric 2 (m)"}, "y2": {"field": "hi"}, "fill": {"datum": "Base Controller", "type": "nominal", "legend": null}}},
  {"data": {"name": "dC"}, "mark": {"type": "area", "opacity": 0.25, "interpolate": "monotone"}, "encoding": {"y": {"field": "lo", "type": "quantitative", "title": "Error Metric 2 (m)"}, "y2": {"field": "hi"}, "fill": {"datum": "Convoy Controller", "type": "nominal", "legend": null}}},
  {"data": {"name": "dB"}, "mark": {"type": "line", "strokeWidth": 1.5, "interpolate": "monotone"}, "encoding": {"color": {"datum": "Base Controller", "type": "nominal", "legend": {"title": null}}}},
  {"data": {"name": "dC"}, "mark": {"type": "line", "strokeWidth": 1.5, "interpolate": "monotone"}, "encoding": {"color": {"datum": "Convoy Controller", "type": "nominal", "legend": {"title": null}}}}
 ]},
{"width": 278, "height": 205, "title": {"text": "(e) Metric 1 - Long Corridor", "dx": -20},
 "encoding": {"x": {"field": "t", "type": "quantitative", "title": "Time (s)", "scale": {"domain": [0, 67.5], "nice": false, "zero": false}, "axis": {"values": [0, 20, 40, 60]}},
  "y": {"field": "m", "type": "quantitative", "title": "Error Metric 1 (m)", "scale": {"domain": [0, 10], "nice": false}, "axis": {"values": [0, 2, 4, 6, 8, 10]}}},
 "layer": [
  {"data": {"name": "eB"}, "mark": {"type": "area", "opacity": 0.25, "interpolate": "monotone"}, "encoding": {"y": {"field": "lo", "type": "quantitative", "title": "Error Metric 1 (m)"}, "y2": {"field": "hi"}, "fill": {"datum": "Base Controller", "type": "nominal", "legend": null}}},
  {"data": {"name": "eC"}, "mark": {"type": "area", "opacity": 0.25, "interpolate": "monotone"}, "encoding": {"y": {"field": "lo", "type": "quantitative", "title": "Error Metric 1 (m)"}, "y2": {"field": "hi"}, "fill": {"datum": "Convoy Controller", "type": "nominal", "legend": null}}},
  {"data": {"name": "eB"}, "mark": {"type": "line", "strokeWidth": 1.5, "interpolate": "monotone"}, "encoding": {"color": {"datum": "Base Controller", "type": "nominal", "legend": {"title": null}}}},
  {"data": {"name": "eC"}, "mark": {"type": "line", "strokeWidth": 1.5, "interpolate": "monotone"}, "encoding": {"color": {"datum": "Convoy Controller", "type": "nominal", "legend": {"title": null}}}}
 ]},
{"width": 275, "height": 205, "title": {"text": "(f) Metric 2 - Long Corridor", "dx": -22},
 "encoding": {"x": {"field": "t", "type": "quantitative", "title": "Time (s)", "scale": {"domain": [0, 67.7], "nice": false, "zero": false}, "axis": {"values": [0, 20, 40, 60]}},
  "y": {"field": "m", "type": "quantitative", "title": "Error Metric 2 (m)", "scale": {"domain": [0, 10], "nice": false}, "axis": {"values": [0, 2, 4, 6, 8, 10]}}},
 "layer": [
  {"data": {"name": "fB"}, "mark": {"type": "area", "opacity": 0.25, "interpolate": "monotone"}, "encoding": {"y": {"field": "lo", "type": "quantitative", "title": "Error Metric 2 (m)"}, "y2": {"field": "hi"}, "fill": {"datum": "Base Controller", "type": "nominal", "legend": null}}},
  {"data": {"name": "fC"}, "mark": {"type": "area", "opacity": 0.25, "interpolate": "monotone"}, "encoding": {"y": {"field": "lo", "type": "quantitative", "title": "Error Metric 2 (m)"}, "y2": {"field": "hi"}, "fill": {"datum": "Convoy Controller", "type": "nominal", "legend": null}}},
  {"data": {"name": "fB"}, "mark": {"type": "line", "strokeWidth": 1.5, "interpolate": "monotone"}, "encoding": {"color": {"datum": "Base Controller", "type": "nominal", "legend": {"title": null}}}},
  {"data": {"name": "fC"}, "mark": {"type": "line", "strokeWidth": 1.5, "interpolate": "monotone"}, "encoding": {"color": {"datum": "Convoy Controller", "type": "nominal", "legend": {"title": null}}}}
 ]}
],
"config": {
 "range": {"category": ["#e41a1c", "#377eb8"]},
 "view": {"stroke": "#d0d0d0", "strokeWidth": 1},
 "axis": {"labelFont": "DejaVu Sans", "labelFontSize": 17, "labelColor": "#262626", "titleFont": "DejaVu Sans", "titleFontSize": 17, "titleFontWeight": "normal", "titleColor": "#262626", "ticks": false, "domain": false, "grid": true, "gridColor": "#dddddd", "gridWidth": 1, "labelFlush": false, "minExtent": 0},
 "axisX": {"labelPadding": 5, "titlePadding": 4},
 "axisY": {"labelPadding": 3, "titlePadding": 6},
 "title": {"font": "Liberation Serif", "fontSize": 24, "fontWeight": "normal", "color": "#000000", "orient": "bottom", "offset": 21, "anchor": "middle", "frame": "group"},
 "legend": {"orient": "top-left", "offset": 8, "padding": 6, "strokeColor": "#cccccc", "cornerRadius": 4, "fillColor": "white", "labelFont": "DejaVu Sans", "labelFontSize": 16.5, "labelColor": "#262626", "symbolType": "M-1,0H4", "symbolSize": 185, "symbolStrokeWidth": 1.5, "labelOffset": 33, "rowPadding": 8.5, "labelLimit": 400}
}
}
